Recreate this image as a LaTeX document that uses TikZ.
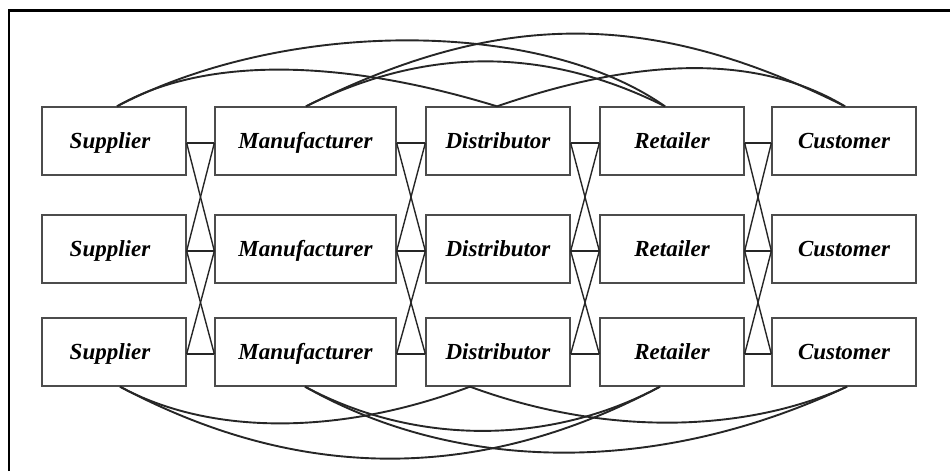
\documentclass[tikz,border=0pt]{standalone}
\usepackage{fontspec}
\setmainfont{Liberation Serif}
\begin{document}
\begin{tikzpicture}[x=1pt,y=-1pt,
  box/.style={draw=black!70, line width=1.3pt, minimum height=68pt, inner sep=0pt,
    font=\fontsize{23}{25}\selectfont\bfseries\itshape, text height=15pt, text depth=0pt},
  narrow/.style={box, minimum width=144pt},
  wide/.style={box, minimum width=181pt},
  link/.style={draw=black!85, line width=1.4pt},
  arcline/.style={draw=black!85, line width=1.9pt},
  frameline/.style={draw=black, line width=2.6pt}]
\useasboundingbox (0,0) rectangle (950,471);
\draw[frameline] (9,471) -- (9,10.5) -- (950,10.5);
% boxes
\foreach \r/\y in {1/141, 2/249, 3/352} {
  \node[narrow] (s\r) at (114,\y) {Supplier\hspace*{8pt}};
  \node[wide]   (m\r) at (305.5,\y) {Manufacturer};
  \node[narrow] (d\r) at (498,\y) {Distributor};
  \node[narrow] (r\r) at (672,\y) {Retailer};
  \node[narrow] (c\r) at (844,\y) {Customer};
}
% links between adjacent columns
\foreach \a/\b in {s/m, m/d, d/r, r/c} {
  \foreach \r in {1,2,3} {
    \draw[link] ([yshift=-2pt]\a\r.east) -- ([yshift=-2pt]\b\r.west);
  }
  \draw[link] ([yshift=-2pt]\a1.east) -- ([yshift=-2pt]\b2.west);
  \draw[link] ([yshift=-2pt]\a2.east) -- ([yshift=-2pt]\b1.west);
  \draw[link] ([yshift=-2pt]\a2.east) -- ([yshift=-2pt]\b3.west);
  \draw[link] ([yshift=-2pt]\a3.east) -- ([yshift=-2pt]\b2.west);
}
% arc end points
\coordinate (tS) at ([xshift=3pt]s1.north);
\coordinate (tM) at ([xshift=0.5pt]m1.north);
\coordinate (tD) at ([xshift=-1pt]d1.north);
\coordinate (tR) at ([xshift=-7pt]r1.north);
\coordinate (tC) at ([xshift=1pt]c1.north);
\coordinate (bS) at ([xshift=6pt]s3.south);
\coordinate (bM) at ([xshift=-0.5pt]m3.south);
\coordinate (bD) at ([xshift=-28pt]d3.south);
\coordinate (bR) at ([xshift=-12pt]r3.south);
\coordinate (bC) at ([xshift=3pt]c3.south);
% top arcs
\draw[arcline] (tS) .. controls +(85,-49) and +(-160,-49) .. (tD);
\draw[arcline] (tS) .. controls +(168,-88) and +(-125,-88) .. (tR);
\draw[arcline] (tM) .. controls +(120,-60) and +(-120,-60) .. (tR);
\draw[arcline] (tM) .. controls +(194,-97) and +(-194,-97) .. (tC);
\draw[arcline] (tD) .. controls +(148,-51) and +(-85,-51) .. (tC);
% bottom arcs
\draw[arcline] (bS) .. controls +(90,49) and +(-130,49) .. (bD);
\draw[arcline] (bS) .. controls +(180,96) and +(-180,96) .. (bR);
\draw[arcline] (bM) .. controls +(110,59) and +(-110,59) .. (bR);
\draw[arcline] (bM) .. controls +(155,88) and +(-187,88) .. (bC);
\draw[arcline] (bD) .. controls +(130,48) and +(-107,48) .. (bC);
\end{tikzpicture}
\end{document}
